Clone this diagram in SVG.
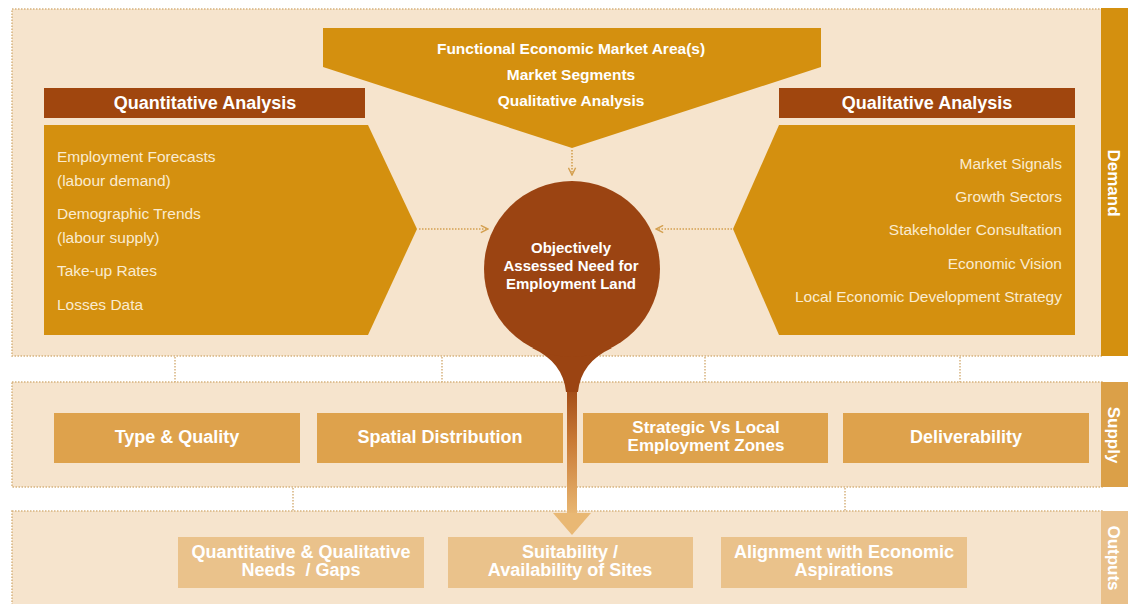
<svg xmlns="http://www.w3.org/2000/svg" width="1128" height="604" viewBox="0 0 1128 604">
<defs>
<linearGradient id="stemGrad" x1="0" y1="0" x2="0" y2="1">
<stop offset="0" stop-color="#9B4412"/>
<stop offset="0.45" stop-color="#C97A35"/>
<stop offset="1" stop-color="#E9B874"/>
</linearGradient>
<marker id="chev" viewBox="0 0 10 10" refX="9" refY="5" markerWidth="9" markerHeight="9" orient="auto" markerUnits="userSpaceOnUse">
<path d="M1,1 L9,5 L1,9" fill="none" stroke="#D4A050" stroke-width="1.6"/>
</marker>
<style>
.panel{fill:#F6E4CD;stroke:#D6B27E;stroke-width:1.5;stroke-dasharray:1.5 1.5}
.dot{fill:none;stroke:#D6B27E;stroke-width:1.5;stroke-dasharray:1.5 1.5}
.arr{fill:none;stroke:#D4A050;stroke-width:1.6;stroke-dasharray:1.5 1.5}
.dark{fill:#D4900F}
.hdr{fill:#A0460E}
.sbox{fill:#DEA24C}
.obox{fill:#EAC28B}
.t{font-family:"Liberation Sans Narrow","Liberation Sans",Arial,sans-serif;font-weight:bold;fill:#FFFFFF;text-anchor:middle}
.b{font-family:"Liberation Sans",Arial,sans-serif;font-size:15.5px;fill:#FAEBD0}
.side{font-family:"Liberation Sans Narrow","Liberation Sans",Arial,sans-serif;font-weight:bold;font-size:17px;fill:#FFFFFF;text-anchor:middle}
</style>
</defs>
<rect width="1128" height="604" fill="#FFFFFF"/>

<g id="demand-panel">
<rect class="panel" x="12" y="9" width="1090" height="347"/>
<rect x="1101" y="8" width="27" height="348" fill="#D4900F"/>
<text class="side" transform="translate(1108,183) rotate(90)">Demand</text>
</g>
<g id="supply-panel">
<rect class="panel" x="12" y="382" width="1090" height="105"/>
<rect x="1101" y="382" width="27" height="105" fill="#DBA048"/>
<text class="side" transform="translate(1108,435) rotate(90)">Supply</text>
</g>
<g id="outputs-panel">
<rect class="panel" x="12" y="511" width="1090" height="100"/>
<rect x="1101" y="511" width="27" height="93" fill="#E9C08A"/>
<text class="side" transform="translate(1108,558) rotate(90)">Outputs</text>
</g>

<g id="connectors">
<line class="dot" x1="175" y1="357" x2="175" y2="382"/>
<line class="dot" x1="442" y1="357" x2="442" y2="382"/>
<line class="dot" x1="705" y1="357" x2="705" y2="382"/>
<line class="dot" x1="960" y1="357" x2="960" y2="382"/>
<line class="dot" x1="293" y1="488" x2="293" y2="511"/>
<line class="dot" x1="845" y1="488" x2="845" y2="511"/>
<line class="arr" x1="572" y1="150" x2="572" y2="175" marker-end="url(#chev)"/>
<line class="arr" x1="419" y1="229" x2="488" y2="229" marker-end="url(#chev)"/>
<line class="arr" x1="732" y1="229" x2="656" y2="229" marker-end="url(#chev)"/>
</g>

<g id="fema">
<polygon class="dark" points="323,28 821,28 821,67 572,148 323,67"/>
<text class="t" x="571" y="54" font-size="15.5">Functional Economic Market Area(s)</text>
<text class="t" x="571" y="80" font-size="15.5">Market Segments</text>
<text class="t" x="571" y="106" font-size="15.5">Qualitative Analysis</text>
</g>

<g id="quantitative">
<rect class="hdr" x="44" y="88" width="321" height="30"/>
<text class="t" x="205" y="109" font-size="18">Quantitative Analysis</text>
<polygon class="dark" points="44,125 368,125 417,229 368,335 44,335"/>
<text class="b" x="57" y="162">Employment Forecasts</text>
<text class="b" x="57" y="186">(labour demand)</text>
<text class="b" x="57" y="219">Demographic Trends</text>
<text class="b" x="57" y="243">(labour supply)</text>
<text class="b" x="57" y="276">Take-up Rates</text>
<text class="b" x="57" y="310">Losses Data</text>
</g>

<g id="qualitative">
<rect class="hdr" x="779" y="88" width="296" height="30"/>
<text class="t" x="927" y="109" font-size="18">Qualitative Analysis</text>
<polygon class="dark" points="779,125 1075,125 1075,335 779,335 733,229"/>
<g text-anchor="end">
<text class="b" x="1062" y="169">Market Signals</text>
<text class="b" x="1062" y="202">Growth Sectors</text>
<text class="b" x="1062" y="235">Stakeholder Consultation</text>
<text class="b" x="1062" y="269">Economic Vision</text>
<text class="b" x="1062" y="302">Local Economic Development Strategy</text>
</g>
</g>

<g id="oan">
<rect x="567" y="380" width="10" height="136" fill="url(#stemGrad)"/>
<polygon points="553,513 591,513 572,535" fill="#E9B874"/>
<path d="M532,348 Q563,362 566,392 L578,392 Q581,362 612,348 Z" fill="#9B4412"/>
<circle cx="572" cy="269" r="88" fill="#9B4412"/>
<text class="t" x="571" y="253" font-size="15">Objectively</text>
<text class="t" x="571" y="271" font-size="15">Assessed Need for</text>
<text class="t" x="571" y="289" font-size="15">Employment Land</text>
</g>

<g id="type-quality">
<rect class="sbox" x="54" y="413" width="246" height="50"/>
<text class="t" x="177" y="443" font-size="18">Type &amp; Quality</text>
</g>
<g id="spatial">
<rect class="sbox" x="317" y="413" width="246" height="50"/>
<text class="t" x="440" y="443" font-size="18">Spatial Distribution</text>
</g>
<g id="strategic">
<rect class="sbox" x="583" y="413" width="245" height="50"/>
<text class="t" x="706" y="433" font-size="17">Strategic Vs Local</text>
<text class="t" x="706" y="451" font-size="17">Employment Zones</text>
</g>
<g id="deliverability">
<rect class="sbox" x="843" y="413" width="246" height="50"/>
<text class="t" x="966" y="443" font-size="18">Deliverability</text>
</g>

<g id="needs-gaps">
<rect class="obox" x="178" y="537" width="246" height="51"/>
<text class="t" x="301" y="558" font-size="18">Quantitative &amp; Qualitative</text>
<text class="t" x="301" y="576" font-size="18" xml:space="preserve">Needs  / Gaps</text>
</g>
<g id="suitability">
<rect class="obox" x="448" y="537" width="245" height="51"/>
<text class="t" x="570" y="558" font-size="18">Suitability /</text>
<text class="t" x="570" y="576" font-size="18">Availability of Sites</text>
</g>
<g id="alignment">
<rect class="obox" x="721" y="537" width="246" height="51"/>
<text class="t" x="844" y="558" font-size="18">Alignment with Economic</text>
<text class="t" x="844" y="576" font-size="18">Aspirations</text>
</g>
</svg>
